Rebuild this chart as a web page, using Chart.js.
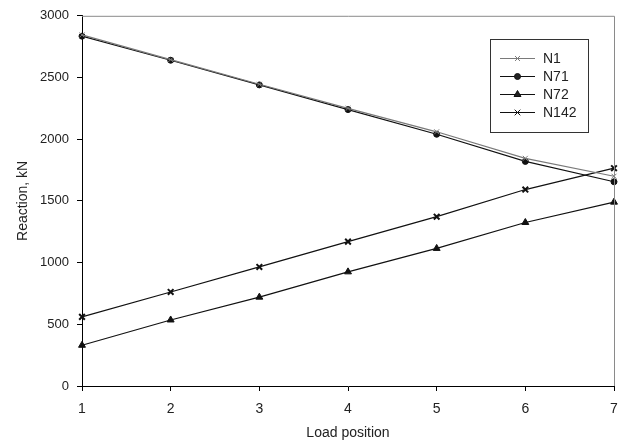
<!DOCTYPE html>
<html>
<head>
<meta charset="utf-8">
<script src="https://cdn.jsdelivr.net/npm/chart.js@4"></script>
<style>
  html, body { margin: 0; padding: 0; background: #fff; }
  #wrap { width: 628px; height: 446px; position: relative; }
</style>
</head>
<body>
<div id="wrap"><canvas id="chart" width="628" height="446"></canvas></div>
<script>
const positions = [1, 2, 3, 4, 5, 6, 7];
const n1 = [2845, 2645, 2445, 2250, 2060, 1845, 1700];
const n71 = [2835, 2640, 2440, 2240, 2040, 1820, 1655];
const n72 = [330, 535, 720, 925, 1115, 1325, 1490];
const n142 = [560, 762, 965, 1170, 1372, 1592, 1765];

const yTicks = [0, 500, 1000, 1500, 2000, 2500, 3000];

const FONT = 'Arial, "Liberation Sans", sans-serif';
const TEXT = '#222';

// grey top/right border plus the boxed legend in the upper right
const framePlugin = {
    id: 'frame',
    afterDraw(chart) {
        const ctx = chart.ctx;
        const a = chart.chartArea;
        ctx.save();
        ctx.strokeStyle = '#8a8a8a';
        ctx.lineWidth = 1;
        ctx.beginPath();
        ctx.moveTo(a.left, a.top + 0.5);
        ctx.lineTo(a.right + 0.5, a.top + 0.5);
        ctx.lineTo(a.right + 0.5, a.bottom);
        ctx.stroke();

        // legend
        const bx = 490, by = 39, bw = 98, bh = 93;
        ctx.strokeStyle = '#333';
        ctx.strokeRect(bx + 0.5, by + 0.5, bw, bh);
        ctx.font = '14px ' + FONT;
        ctx.textBaseline = 'middle';
        ctx.textAlign = 'left';
        chart.data.datasets.forEach((ds, i) => {
            const y = by + 19 + i * 18;
            ctx.strokeStyle = ds.borderColor;
            ctx.lineWidth = 1;
            ctx.beginPath();
            ctx.moveTo(bx + 10, y + 0.5);
            ctx.lineTo(bx + 45, y + 0.5);
            ctx.stroke();
            Chart.helpers.drawPoint(ctx, {
                pointStyle: ds.pointStyle,
                radius: ds.pointRadius,
                rotation: 0,
                borderWidth: ds.pointBorderWidth
            }, bx + 27.5, y + 0.5);
            ctx.fillStyle = TEXT;
            ctx.fillText(ds.label, bx + 53, y + 1);
        });
        ctx.restore();
    }
};

function makeSet(label, data, color, style, radius, bw) {
    return {
        label: label,
        data: data,
        borderColor: color,
        backgroundColor: color,
        borderWidth: 1.2,
        pointStyle: style,
        pointRadius: radius,
        pointBorderWidth: bw,
        pointBorderColor: color,
        pointBackgroundColor: color,
        tension: 0,
        fill: false
    };
}

new Chart(document.getElementById('chart'), {
    type: 'line',
    data: {
        labels: positions,
        datasets: [
            makeSet('N1', n1, '#7a7a7a', 'crossRot', 3.5, 1),
            makeSet('N71', n71, '#111', 'circle', 3, 1),
            makeSet('N72', n72, '#111', 'triangle', 4, 1),
            makeSet('N142', n142, '#111', 'crossRot', 4, 2)
        ]
    },
    options: {
        responsive: false,
        animation: false,
        layout: { padding: { top: 15, right: 14, left: 0, bottom: 0 } },
        plugins: { legend: { display: false }, tooltip: { enabled: false } },
        scales: {
            x: {
                type: 'category',
                offset: false,
                afterFit(scale) { scale.height = 60; },
                grid: { display: true, drawOnChartArea: false, tickLength: 5, color: '#000' },
                border: { color: '#000', width: 1 },
                ticks: { color: TEXT, font: { family: FONT, size: 14 }, padding: 10, maxRotation: 0 },
                title: { display: true, text: 'Load position', color: TEXT, font: { family: FONT, size: 14 }, padding: { top: 0 } }
            },
            y: {
                min: 0,
                max: 3000,
                afterFit(scale) { scale.width = 82; },
                afterBuildTicks(scale) { scale.ticks = yTicks.map(v => ({ value: v })); },
                grid: { display: true, drawOnChartArea: false, tickLength: 5, color: '#000' },
                border: { color: '#000', width: 1 },
                ticks: { color: TEXT, font: { family: FONT, size: 13 }, padding: 8, callback: v => String(v) },
                title: { display: true, text: 'Reaction, kN', color: TEXT, font: { family: FONT, size: 14 }, padding: { bottom: 0, top: 15 } }
            }
        }
    },
    plugins: [framePlugin]
});
</script>
</body>
</html>
